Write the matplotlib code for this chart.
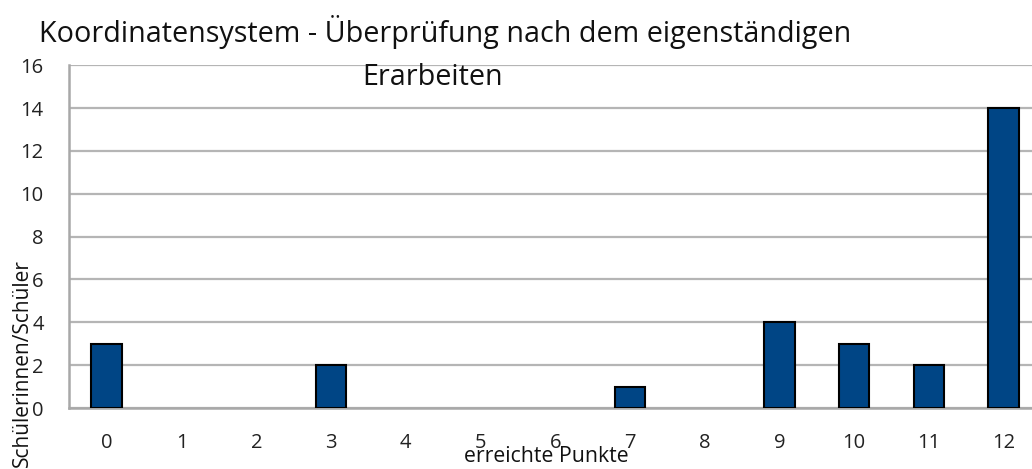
import matplotlib
matplotlib.use("Agg")
import matplotlib.pyplot as plt

punkte = [0, 1, 2, 3, 4, 5, 6, 7, 8, 9, 10, 11, 12]
anzahl = [3, 0, 0, 2, 0, 0, 0, 1, 0, 4, 3, 2, 14]
yticks = [0, 2, 4, 6, 8, 10, 12, 14, 16]

plt.rcParams['font.family'] = ['Open Sans', 'DejaVu Sans']

fig = plt.figure(figsize=(10.32, 4.69), dpi=100)
ax = fig.add_axes([0.0673, 0.130, 0.9327, 0.731])

# Nullwerte ohne Rand, sonst sieht man einen Strich auf der Achse
rand = [1.5 if v > 0 else 0 for v in anzahl]
ax.bar(punkte, anzahl, width=0.41, color='#004585', edgecolor='black', linewidth=rand, zorder=3)

ax.set_xlim(-0.5, 12.38)
ax.set_ylim(0, 16)
ax.set_xticks(punkte)
ax.set_xticklabels([str(p) for p in punkte])
ax.set_yticks(yticks)
ax.yaxis.grid(True, color='#b5b5b5', linewidth=1.6, zorder=0)
ax.set_axisbelow(True)

for s in ['top', 'right']:
    ax.spines[s].set_visible(False)
for s in ['left', 'bottom']:
    ax.spines[s].set_color('#a8a8a8')
    ax.spines[s].set_linewidth(1.8)

ax.tick_params(axis='both', length=0, labelsize=14.5, colors='#222222')
ax.tick_params(axis='x', pad=18)
ax.tick_params(axis='y', pad=18.5)

fig.text(0.431, 0.932, 'Koordinatensystem - Überprüfung nach dem eigenständigen',
         ha='center', va='center', fontsize=20.7, color='#111111')
fig.text(0.419, 0.834, 'Erarbeiten', ha='center', va='center', fontsize=20.7, color='#111111')
fig.text(0.529, 0.026, 'erreichte Punkte', ha='center', va='center', fontsize=15.3, color='#111111')
fig.text(0.022, 0.226, 'Schülerinnen/Schüler', ha='center', va='center', rotation=90,
         fontsize=15, color='#111111')

fig.savefig('out.png', dpi=100)
